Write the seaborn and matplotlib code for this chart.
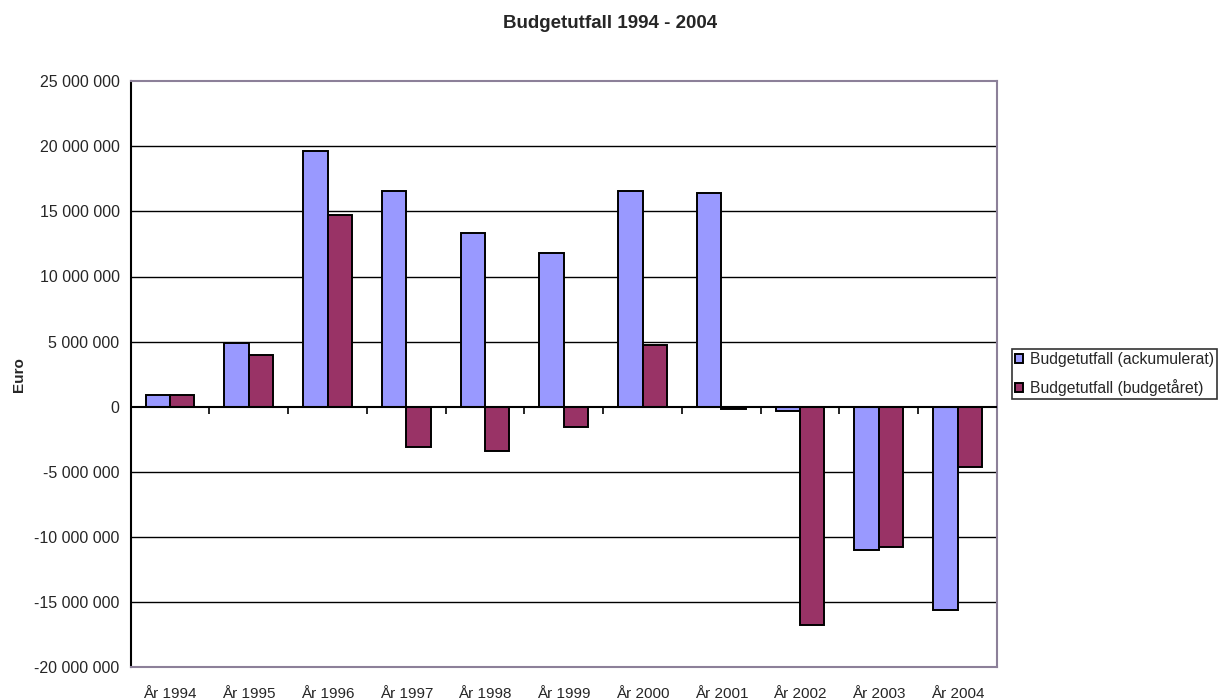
import numpy as np
import pandas as pd
import matplotlib
matplotlib.use('Agg')
import matplotlib.pyplot as plt
from matplotlib.ticker import FuncFormatter, MultipleLocator
import seaborn as sns

sns.set_style('white')
plt.rcParams['font.family'] = ['Liberation Sans', 'DejaVu Sans']

years = ['År 1994', 'År 1995', 'År 1996', 'År 1997', 'År 1998', 'År 1999',
         'År 2000', 'År 2001', 'År 2002', 'År 2003', 'År 2004']
ackumulerat = [900000, 4900000, 19630000, 16540000, 13320000, 11790000,
               16540000, 16410000, -300000, -11040000, -15600000]
budgetaret = [900000, 3990000, 14700000, -3070000, -3400000, -1560000,
              4730000, -150000, -16740000, -10740000, -4600000]
series = ['Budgetutfall (ackumulerat)', 'Budgetutfall (budgetåret)']

df = pd.DataFrame({
    'year': years * 2,
    'value': ackumulerat + budgetaret,
    'series': [series[0]] * len(years) + [series[1]] * len(years),
})

fig = plt.figure(figsize=(12.21, 7), dpi=100)
ax = fig.add_axes([0.107, 0.047, 0.7095, 0.837])

sns.barplot(data=df, x='year', y='value', hue='series', order=years, hue_order=series,
            palette=['#9999FF', '#993366'], width=0.62, gap=0, edgecolor='black',
            linewidth=1.4, saturation=1, ax=ax, zorder=3)

ax.set_ylim(-20000000, 25000000)
ax.set_xlim(-0.5, len(years) - 0.5)
ax.yaxis.set_major_locator(MultipleLocator(5000000))
ax.yaxis.set_major_formatter(FuncFormatter(lambda v, p: f'{int(v):,}'.replace(',', ' ')))

for v in range(-15000000, 25000000, 5000000):
    ax.axhline(v, color='black', lw=1.5 if v == 0 else 1.0, zorder=1 if v else 4)

for s in ['top', 'right', 'bottom']:
    ax.spines[s].set_color('#8c8099')
    ax.spines[s].set_linewidth(1.5)
ax.spines['left'].set_color('black')
ax.spines['left'].set_linewidth(1.5)

ax.tick_params(axis='y', direction='out', length=5, width=1.2, color='black', labelsize=11.5, pad=3)
ax.tick_params(axis='x', length=0, labelsize=11, pad=14)
ax.set_xlabel('')
ax.set_ylabel('Euro', fontsize=11, fontweight='bold', labelpad=6)

# category boundary ticks on the zero line
sec = ax.secondary_xaxis(20 / 45)
sec.set_xticks(np.arange(0.5, len(years) - 0.5, 1.0))
sec.set_xticklabels([])
sec.tick_params(direction='out', length=5, width=1.2, color='black')
sec.spines['bottom'].set_visible(False)

fig.suptitle('Budgetutfall 1994 - 2004', x=0.5, y=0.978, fontsize=13.5, fontweight='bold')

ax.legend(loc='center left', bbox_to_anchor=(1.017, 0.5), frameon=True, fancybox=False,
          edgecolor='black', fontsize=11.3, handlelength=0.5, handleheight=0.5,
          handletextpad=0.45, borderpad=0.2, labelspacing=0.75, borderaxespad=0)
ax.get_legend().get_frame().set_linewidth(1.2)

fig.savefig('out.png', dpi=100)
